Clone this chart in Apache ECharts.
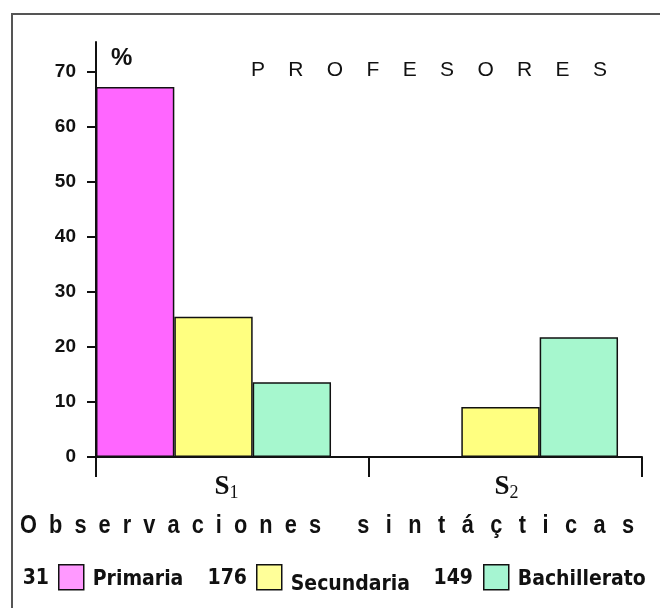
<!DOCTYPE html>
<html>
<head>
<meta charset="utf-8">
<script src="https://cdn.jsdelivr.net/npm/echarts@6/dist/echarts.min.js"></script>
<style>
  html, body { margin: 0; padding: 0; background: #ffffff; }
  #chart { width: 660px; height: 608px; }
</style>
</head>
<body>
<div id="chart"></div>
<script>
// Data
const categories = ['S1', 'S2'];
const subscripts = ['1', '2'];
const seriesNames = ['Primaria', 'Secundaria', 'Bachillerato'];
const groupSizes = [31, 176, 149];
const primaria = [67.3, 0];
const secundaria = [25.5, 9.1];
const bachillerato = [13.6, 21.8];
const yTicks = [0, 10, 20, 30, 40, 50, 60, 70];
const yMax = 75.5;
const titleText = 'PROFESORES';
const axisTitleWords = ['Observaciones', 'sintáçticas'];

// Styling
const barColors = ['#FF66FF', '#FFFF80', '#A6F7CE'];
const legendColors = ['#FF99FF', '#FFFF99', '#A6F5D2'];
const ink = '#111111';
const sans = '"Liberation Sans", Arial, sans-serif';
const narrow = '"DejaVu Sans Condensed", "Liberation Sans Narrow", "Arial Narrow", sans-serif';
const serif = '"Liberation Serif", "Times New Roman", serif';

// Layout
const legendLefts = [58, 256, 483];
const countRights = [49, 247, 473];
const legendTextDrop = [4, 14, 4];

// Letter-spaced word: letters joined by `gap`
function spaceLetters(word, gap) {
  return word.split('').join(gap);
}

const values = [primaria, secundaria, bachillerato];
const chart = echarts.init(document.getElementById('chart'), null, { renderer: 'canvas' });

const axisTitleText =
  spaceLetters(axisTitleWords[0], '  ') + '      ' + spaceLetters(axisTitleWords[1], '  \u2009');

const option = {
  animation: false,
  backgroundColor: '#ffffff',
  title: {
    text: spaceLetters(titleText, '    '),
    left: 246,
    top: 55,
    padding: [5, 5, 5, 5],
    textStyle: { fontFamily: sans, fontWeight: 'normal', fontSize: 21, color: ink }
  },
  grid: [
    { left: 70, right: 16, top: 42, bottom: 151 },
    { left: 96, right: 18, top: 42, bottom: 151 }
  ],
  xAxis: [
    {
      gridIndex: 0,
      type: 'category',
      data: categories.map((c, i) => ({
        value: c,
        textStyle: { padding: [0, 0, 0, i === 0 ? 26 : 12] }
      })),
      axisLine: { show: false },
      axisTick: { show: false },
      axisLabel: {
        margin: 15,
        formatter: (v, i) => '{s|S}{sub|' + subscripts[i] + '}',
        rich: {
          s: { fontFamily: serif, fontWeight: 'bold', fontSize: 27, color: ink, lineHeight: 30 },
          sub: { fontFamily: serif, fontSize: 18, color: ink, verticalAlign: 'bottom', lineHeight: 20 }
        }
      }
    },
    {
      gridIndex: 1,
      type: 'category',
      data: categories,
      axisLine: { show: true, lineStyle: { color: ink, width: 2 } },
      axisTick: { show: true, length: 20, lineStyle: { color: ink, width: 2 } },
      axisLabel: { show: false }
    }
  ],
  yAxis: [
    { gridIndex: 0, type: 'value', min: 0, max: yMax, show: false },
    {
      gridIndex: 1,
      type: 'value',
      min: 0,
      max: yMax,
      interval: 10,
      axisLine: { show: true, lineStyle: { color: ink, width: 2 } },
      axisTick: { show: true, length: 9, customValues: yTicks, lineStyle: { color: ink, width: 2 } },
      axisLabel: {
        customValues: yTicks,
        margin: 20,
        fontFamily: sans,
        fontWeight: 'bold',
        fontSize: 19,
        color: ink,
        formatter: v => (v % 10 === 0 ? String(v) : '')
      },
      splitLine: { show: false }
    }
  ],
  legend: seriesNames.map((name, i) => ({
    left: legendLefts[i],
    top: 564,
    padding: 0,
    icon: 'rect',
    itemWidth: 25,
    itemHeight: 25,
    selectedMode: false,
    data: [{ name, itemStyle: { color: legendColors[i], borderColor: ink, borderWidth: 1.5 } }],
    formatter: n => '{t|' + n + '}',
    textStyle: {
      rich: {
        t: {
          fontFamily: narrow,
          fontWeight: 'bold',
          fontSize: 21,
          color: ink,
          padding: [legendTextDrop[i], 0, 0, 4]
        }
      }
    }
  })),
  graphic: [
    {
      type: 'rect',
      silent: true,
      z: -10,
      shape: { x: 12, y: 14, width: 700, height: 700 },
      style: { fill: 'none', stroke: '#555555', lineWidth: 2 }
    },
    {
      type: 'text',
      x: 111,
      y: 58,
      style: { text: '%', font: 'bold 24px ' + sans, fill: ink, verticalAlign: 'middle' }
    },
    {
      type: 'text',
      x: 20,
      y: 526,
      scaleX: 0.87,
      style: { text: axisTitleText, font: 'bold 25px ' + sans, fill: ink, verticalAlign: 'middle' }
    }
  ].concat(groupSizes.map((n, i) => ({
    type: 'text',
    x: countRights[i],
    y: 579,
    style: { text: String(n), font: 'bold 21px ' + narrow, fill: ink, align: 'right', verticalAlign: 'middle' }
  }))),
  series: seriesNames.map((name, i) => ({
    name,
    type: 'bar',
    xAxisIndex: 0,
    yAxisIndex: 0,
    data: values[i],
    barGap: '0%',
    barCategoryGap: '18.1%',
    itemStyle: { color: barColors[i], borderColor: ink, borderWidth: 1.5 },
    emphasis: { disabled: true }
  }))
};

chart.setOption(option);
</script>
</body>
</html>
